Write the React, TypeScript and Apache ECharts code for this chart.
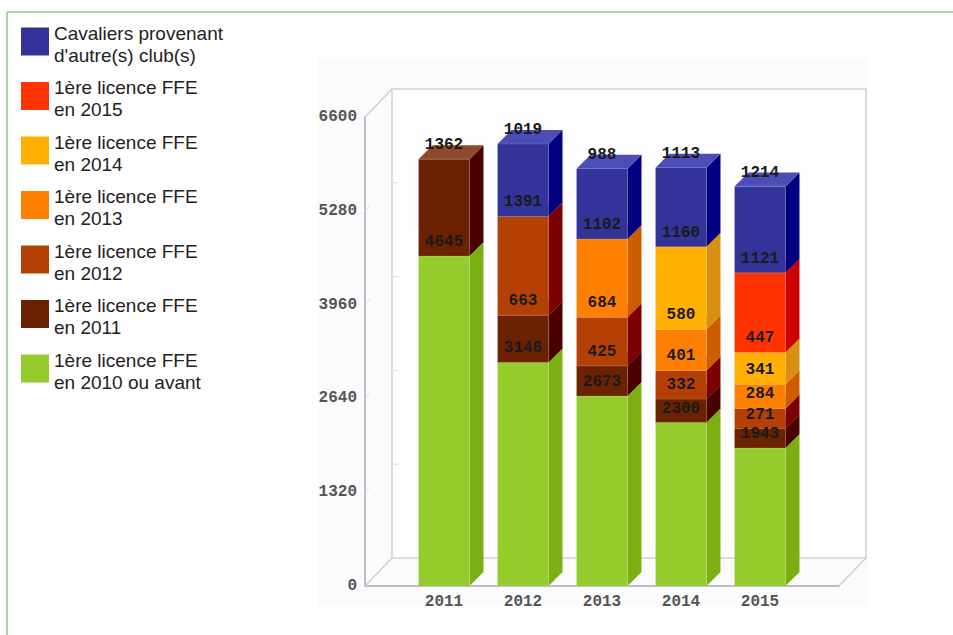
import React, { useEffect, useRef } from "react";
import * as echarts from "echarts";

const years = ["2011", "2012", "2013", "2014", "2015"];
const axisCategories = ["", ...years, " "];
const yTicks = [0, 1320, 2640, 3960, 5280, 6600];

const licence2010 = [4645, 3146, 2673, 2300, 1943];
const licence2011 = [1362, 663, 425, 332, 271];
const licence2012 = [0, 1391, 684, 401, 284];
const licence2013 = [0, 0, 1102, 580, 341];
const licence2014 = [0, 0, 0, 1160, 447];
const licence2015 = [0, 0, 0, 0, 1121];
const otherClubs = [0, 1019, 988, 1113, 1214];

const layers = [
  { name: "1ère licence FFE\nen 2010 ou avant", values: licence2010, front: "#95cb2d", side: "#7cb012", top: "#a9d94f" },
  { name: "1ère licence FFE\nen 2011", values: licence2011, front: "#6b2200", side: "#4b0000", top: "#8f4a2a" },
  { name: "1ère licence FFE\nen 2012", values: licence2012, front: "#b54006", side: "#7d0000", top: "#c9602f" },
  { name: "1ère licence FFE\nen 2013", values: licence2013, front: "#ff7f00", side: "#cc5c00", top: "#ff9a33" },
  { name: "1ère licence FFE\nen 2014", values: licence2014, front: "#ffb000", side: "#d99010", top: "#ffc433" },
  { name: "1ère licence FFE\nen 2015", values: licence2015, front: "#ff3300", side: "#cc0000", top: "#ff5c33" },
  { name: "Cavaliers provenant\nd'autre(s) club(s)", values: otherClubs, front: "#333399", side: "#000080", top: "#4d4db8" },
];

const BAR_DX = 14;
const BAR_DY = -14;
const WALL_DX = 27;
const WALL_DY = -28;
const monoFamily = "Liberation Mono";
const monoSize = 16;

// stack the layers: [categoryIndex, base, top, value]
const cumulative = years.map(() => 0);
const stacked = layers.map((layer) =>
  layer.values.flatMap((v, i) => {
    if (!v) return [];
    const base = cumulative[i];
    cumulative[i] = base + v;
    return [[i + 1, base, base + v, v]];
  })
);

const renderBox = (layer: any) => (_p: any, api: any) => {
  const i = api.value(0);
  const bottom = api.coord([i, api.value(1)]);
  const top = api.coord([i, api.value(2)]);
  const w = api.size([1, 0])[0] * 0.645;
  const x0 = bottom[0] - w / 2;
  const x1 = bottom[0] + w / 2;
  const edge = { stroke: "rgba(255,255,255,0.12)", lineWidth: 1 };
  return {
    type: "group",
    children: [
      {
        type: "polygon",
        shape: { points: [[x1, bottom[1]], [x1 + BAR_DX, bottom[1] + BAR_DY], [x1 + BAR_DX, top[1] + BAR_DY], [x1, top[1]]] },
        style: { fill: layer.side },
      },
      {
        type: "polygon",
        shape: { points: [[x0, top[1]], [x0 + BAR_DX, top[1] + BAR_DY], [x1 + BAR_DX, top[1] + BAR_DY], [x1, top[1]]] },
        style: { fill: layer.top },
      },
      {
        type: "rect",
        shape: { x: x0, y: top[1], width: w, height: bottom[1] - top[1] },
        style: { fill: layer.front, ...edge },
      },
    ],
  };
};

const renderLabel = (_p: any, api: any) => {
  const top = api.coord([api.value(0), api.value(2)]);
  return {
    type: "text",
    style: {
      text: String(api.value(3)),
      x: top[0],
      y: top[1] - 14,
      align: "center",
      verticalAlign: "middle",
      fontFamily: monoFamily,
      fontSize: monoSize,
      fontWeight: "bold",
      fill: "#1a1a1a",
    },
  };
};

const renderFrame = (_p: any, api: any) => {
  const last = axisCategories.length - 1;
  const o = api.coord([0, 0]);
  const far = api.coord([last, 0]);
  const up = api.coord([0, yTicks[yTicks.length - 1]]);
  const line = (x1: number, y1: number, x2: number, y2: number, stroke: string, lineWidth = 1.5) => ({
    type: "line",
    shape: { x1, y1, x2, y2 },
    style: { stroke, lineWidth },
  });
  const wall = "#cfcfd6";
  const children: any[] = [
    { type: "rect", shape: { x: o[0] + WALL_DX, y: up[1] + WALL_DY, width: far[0] - o[0], height: o[1] - up[1] }, style: { fill: "#fefefe", stroke: wall, lineWidth: 1.5 } },
    line(o[0], o[1], o[0] + WALL_DX, o[1] + WALL_DY, wall),
    line(far[0], far[1], far[0] + WALL_DX, far[1] + WALL_DY, wall),
    line(up[0], up[1], up[0] + WALL_DX, up[1] + WALL_DY, wall),
  ];
  yTicks.slice(1, -1).forEach((t) => {
    const p = api.coord([0, t]);
    children.push(line(p[0], p[1], p[0] + 5, p[1] - 5, "#dedee4", 1));
    children.push(line(p[0] + WALL_DX, p[1] + WALL_DY, p[0] + WALL_DX + 6, p[1] + WALL_DY, "#d8d8e0", 1));
  });
  return { type: "group", children };
};

export default function App() {
  const ref = useRef<HTMLDivElement>(null);
  useEffect(() => {
    document.body.style.margin = "0";
    document.body.style.background = "#fff";
    const chart = echarts.init(ref.current!, undefined, { renderer: "svg" });
    const labelData = stacked.flat();
    chart.setOption({
      animation: false,
      backgroundColor: "#ffffff",
      graphic: [
        { type: "line", silent: true, z: -1, shape: { x1: 7, y1: 12, x2: 953, y2: 12 }, style: { stroke: "#a9d0a9", lineWidth: 2 } },
        { type: "line", silent: true, z: -1, shape: { x1: 7, y1: 12, x2: 7, y2: 635 }, style: { stroke: "#a9d0a9", lineWidth: 2 } },
        { type: "rect", silent: true, z: -1, shape: { x: 318, y: 58, width: 550, height: 548 }, style: { fill: "#fbfbfb" } },
      ],
      legend: {
        orient: "vertical",
        left: 16,
        top: 12,
        itemWidth: 28,
        itemHeight: 28,
        itemGap: 7,
        selectedMode: false,
        icon: "rect",
        data: [...layers].reverse().map((l) => l.name),
        formatter: (name: string) =>
          ["{s| }", ...name.split("\n").map((t) => `{t|${t}}`)].join("\n"),
        textStyle: {
          rich: {
            s: { fontSize: 1, lineHeight: 5, height: 5 },
            t: { fontFamily: "Liberation Sans", fontSize: 19, lineHeight: 22, color: "#222222" },
          },
        },
        itemStyle: { borderWidth: 0 },
      },
      grid: { left: 365, top: 117, width: 474, height: 469 },
      xAxis: {
        type: "category",
        boundaryGap: false,
        data: axisCategories,
        axisLine: { lineStyle: { color: "#a8a8b8", width: 1.5 } },
        axisTick: { show: false },
        splitLine: { show: false },
        axisLabel: { interval: 0, margin: 8, fontFamily: monoFamily, fontSize: monoSize, fontWeight: "bold", color: "#555555" },
      },
      yAxis: {
        type: "value",
        min: 0,
        max: 6600,
        interval: 1320,
        axisLine: { show: true, lineStyle: { color: "#a8a8b8", width: 1.5 } },
        axisTick: { show: false },
        splitLine: { show: false },
        axisLabel: { margin: 8, fontFamily: monoFamily, fontSize: monoSize, fontWeight: "bold", color: "#555555", formatter: (v: number) => String(v) },
      },
      series: [
        {
          type: "custom",
          name: "frame",
          z: 1,
          silent: true,
          data: [[0, 0]],
          encode: { x: 0, y: 1 },
          renderItem: renderFrame,
        },
        ...layers.map((layer, k) => ({
          type: "custom",
          name: layer.name,
          z: 2 + k,
          itemStyle: { color: layer.front },
          data: stacked[k],
          encode: { x: 0, y: [1, 2] },
          renderItem: renderBox(layer),
        })),
        {
          type: "custom",
          name: "values",
          z: 20,
          silent: true,
          data: labelData,
          encode: { x: 0, y: [1, 2] },
          renderItem: renderLabel,
        },
      ],
    });
    return () => chart.dispose();
  }, []);
  return <div ref={ref} style={{ position: "fixed", left: 0, top: 0, width: 953, height: 635 }} />;
}
